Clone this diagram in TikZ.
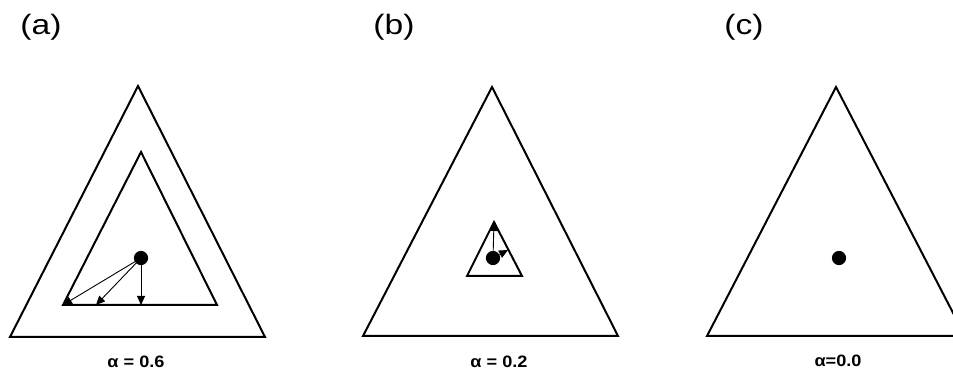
\documentclass[tikz,border=0pt]{standalone}
\usepackage{fontspec}
\setmainfont{Liberation Sans}
\usetikzlibrary{arrows.meta}
\definecolor{edgec}{HTML}{000000}
\tikzset{
  tri/.style={draw=edgec, line width=2pt, line join=miter},
  dot/.style={circle, fill=edgec, inner sep=0pt, minimum size=0.5cm},
  move/.style={draw=edgec, line width=0.9pt, -{Triangle[length=9pt,width=8pt]}},
  panel/.style={font=\fontsize{28}{32}\selectfont, xscale=1.2, transform shape},
  alpha/.style={font=\bfseries\fontsize{16.5}{19}\selectfont, xscale=1.1, transform shape},
}
\begin{document}
\begin{tikzpicture}
\useasboundingbox (0,0) rectangle (33.494,13.039);
\coordinate (a-top) at (4.850,10.017);
\coordinate (a-left) at (0.351,1.195);
\coordinate (a-right) at (9.314,1.195);
\coordinate (ai-top) at (4.956,7.697);
\coordinate (ai-left) at (2.214,2.320);
\coordinate (ai-right) at (7.627,2.320);
\coordinate (ai-mid) at (3.374,2.320);
\coordinate (ai-foot) at (4.956,2.320);
\coordinate (b-top) at (17.292,9.981);
\coordinate (b-left) at (12.758,1.230);
\coordinate (b-right) at (21.720,1.230);
\coordinate (bi-top) at (17.362,5.237);
\coordinate (bi-left) at (16.413,3.339);
\coordinate (bi-right) at (18.346,3.339);
\coordinate (bi-foot) at (17.854,4.253);
\coordinate (c-top) at (29.382,9.981);
\coordinate (c-left) at (24.848,1.230);
\coordinate (c-right) at (33.916,1.230);
\draw[tri] (a-top) -- (a-left) -- (a-right) -- cycle;
\draw[tri] (ai-top) -- (ai-left) -- (ai-right) -- cycle;
\draw[tri] (b-top) -- (b-left) -- (b-right) -- cycle;
\draw[tri] (bi-top) -- (bi-left) -- (bi-right) -- cycle;
\draw[tri] (c-top) -- (c-left) -- (c-right) -- cycle;
\node[dot] (pa) at (4.956,3.971) {};
\node[dot] (pb) at (17.327,3.971) {};
\node[dot] (pc) at (29.488,3.971) {};
\draw[move] (pa.center) -- (ai-left);
\draw[move] (pa.center) -- (ai-mid);
\draw[move] (pa) -- (ai-foot);
\draw[move] (pb) -- (bi-top);
\draw[move] (pb) -- (bi-foot);
\node[panel] (la) at (1.441,12.090) {(a)};
\node[panel] (lb) at (13.848,12.090) {(b)};
\node[panel] (lc) at (26.149,12.090) {(c)};
\node[alpha] (va) at (4.780,0.316) {α = 0.6};
\node[alpha] (vb) at (17.538,0.316) {α = 0.2};
\node[alpha] (vc) at (29.452,0.351) {α=0.0};
\end{tikzpicture}
\end{document}
